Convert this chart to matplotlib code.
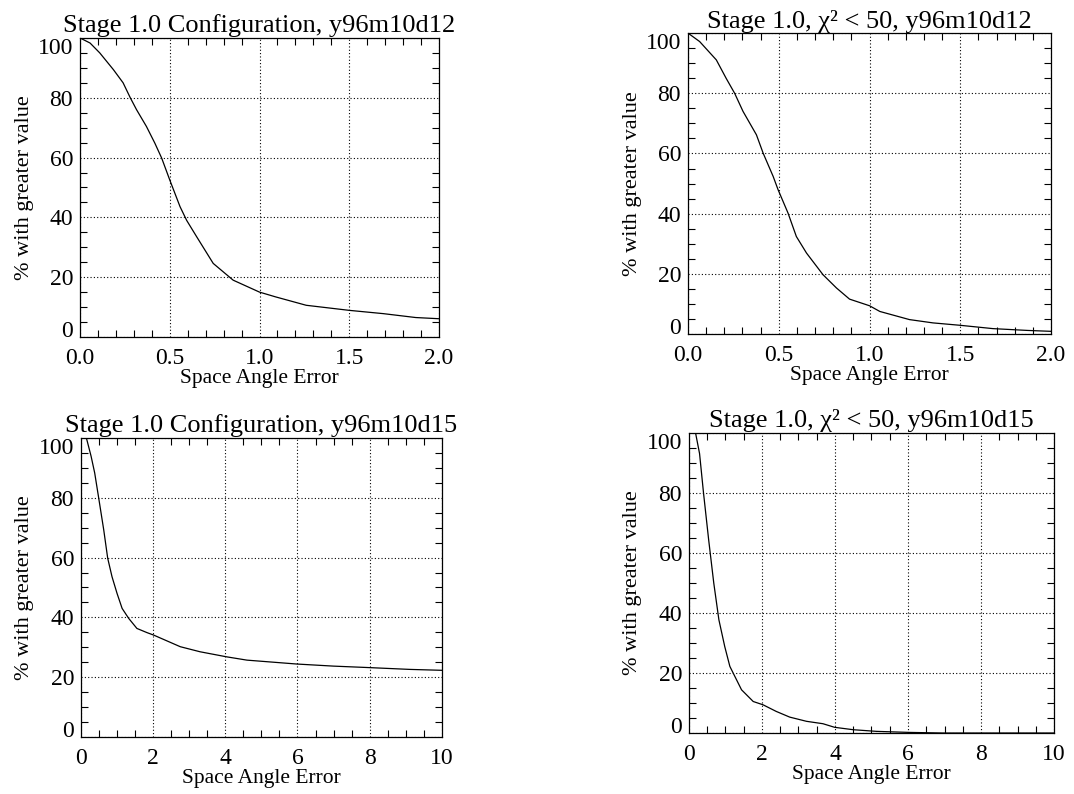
import matplotlib
matplotlib.use("Agg")
import matplotlib.pyplot as plt
from matplotlib.ticker import MultipleLocator

plt.rcParams['font.family'] = ['Liberation Serif', 'DejaVu Serif']

# curves (x = space angle error, y = % with greater value)
x_d12 = [0.0, 0.056, 0.11, 0.186, 0.24, 0.28, 0.315, 0.37, 0.417, 0.455, 0.5, 0.557,
         0.594, 0.65, 0.742, 0.853, 1.0, 1.09, 1.26, 1.5, 1.69, 1.87, 2.0]
y_d12 = [100, 98.3, 95, 89.4, 85, 80, 76, 70.4, 64.8, 59.8, 52.5, 43.6,
         39, 33.5, 24.6, 19, 15, 13.4, 10.6, 8.9, 7.8, 6.5, 6.1]

x_d12_chi = [0.0, 0.064, 0.156, 0.21, 0.257, 0.303, 0.377, 0.414, 0.469, 0.496, 0.551,
             0.597, 0.653, 0.744, 0.818, 0.89, 1.0, 1.057, 1.22, 1.35, 1.5, 1.68, 1.87, 2.0]
y_d12_chi = [100, 97.2, 91.1, 85, 80, 74, 66.2, 60.1, 52.4, 48, 40.2,
             32.4, 26.9, 19.7, 15.3, 11.6, 9.4, 7.5, 4.8, 3.7, 2.9, 1.8, 1.2, 0.9]

x_d15 = [0.0, 0.15, 0.28, 0.38, 0.49, 0.63, 0.74, 0.86, 1.0, 1.14, 1.32, 1.55, 1.83,
         2.01, 2.75, 3.3, 4.04, 4.6, 5.98, 7.0, 8.0, 9.12, 10.0]
y_d15 = [100, 100, 93.9, 88.3, 80, 69.3, 59.8, 53.6, 48, 43, 39.7, 36.3, 34.9,
         34.1, 30.2, 28.5, 26.8, 25.7, 24.4, 23.7, 23.2, 22.6, 22.3]

x_d15_chi = [0.0, 0.18, 0.29, 0.4, 0.54, 0.68, 0.82, 0.98, 1.12, 1.44, 1.76, 2.03,
             2.39, 2.76, 3.22, 3.67, 3.99, 4.5, 5.14, 6.05, 6.97, 10.0]
y_d15_chi = [100, 100, 93.1, 79.8, 64.3, 49.9, 37.7, 28.8, 22.2, 14.4, 10.5, 9.4,
             7.2, 5.3, 3.9, 3.1, 1.9, 1.1, 0.55, 0.2, 0.0, 0.0]

y_ticks = [0, 20, 40, 60, 80, 100]

titles = ["Stage 1.0 Configuration, y96m10d12", "Stage 1.0, \u03c7\u00b2 < 50, y96m10d12",
          "Stage 1.0 Configuration, y96m10d15", "Stage 1.0, \u03c7\u00b2 < 50, y96m10d15"]

fig = plt.figure(figsize=(10.74, 7.94), dpi=100)

boxes = [[0.0745, 0.5756, 0.3343, 0.3766],
         [0.6406, 0.5793, 0.3380, 0.3790],
         [0.0754, 0.0718, 0.3360, 0.3766],
         [0.6415, 0.0768, 0.3399, 0.3780]]
series = [(x_d12, y_d12), (x_d12_chi, y_d12_chi), (x_d15, y_d15), (x_d15_chi, y_d15_chi)]
xlims = [2, 2, 10, 10]

for i in range(4):
    ax = fig.add_axes(boxes[i])
    xs, ys = series[i]
    ax.plot(xs, ys, color='black', lw=0.9)
    ax.set_xlim(0, xlims[i])
    ax.set_ylim(0, 100)
    if xlims[i] == 2:
        ax.xaxis.set_major_locator(MultipleLocator(0.5))
        ax.xaxis.set_minor_locator(MultipleLocator(0.1))
        ax.xaxis.set_major_formatter(plt.FuncFormatter(lambda v, p: f"{v:.1f}"))
    else:
        ax.xaxis.set_major_locator(MultipleLocator(2))
        ax.xaxis.set_minor_locator(MultipleLocator(0.5))
    ax.set_yticks(y_ticks)
    ax.yaxis.set_minor_locator(MultipleLocator(5))
    ax.tick_params(which='both', direction='in', top=True, right=True, labelsize=17)
    ax.tick_params(which='major', length=0)
    ax.tick_params(which='minor', length=5, width=0.8)
    ax.tick_params(axis='x', pad=8)
    ax.tick_params(axis='y', pad=5)
    # end labels sit inside the axis range, as in the original
    ylabels = ax.get_yticklabels()
    ylabels[0].set_va('baseline')
    ylabels[-1].set_va('top')
    ax.grid(True, which='major', color='black', linestyle=(0, (1, 2)), lw=0.8)
    for s in ax.spines.values():
        s.set_linewidth(0.9)
    ax.set_title(titles[i], fontsize=19, pad=4)
    ax.set_xlabel('Space Angle Error', fontsize=15.5, labelpad=0)
    ax.set_ylabel('% with greater value', fontsize=16, labelpad=3)

fig.savefig('out.png', dpi=100)
